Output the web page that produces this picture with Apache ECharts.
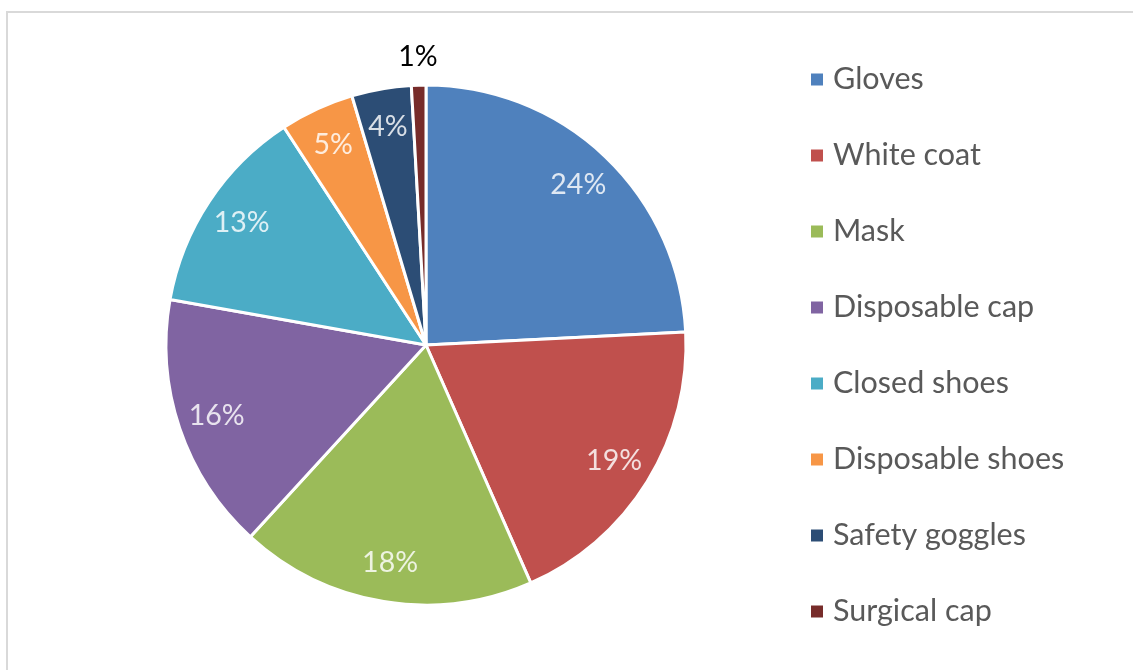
<!DOCTYPE html>
<html><head><meta charset="utf-8">
<script src="https://cdn.jsdelivr.net/npm/echarts@6/dist/echarts.min.js"></script>
<style>html,body{margin:0;padding:0;background:#fff}#c{width:1133px;height:670px}</style>
</head><body><div id="c"></div>
<script>
const categories = ['Gloves','White coat','Mask','Disposable cap','Closed shoes','Disposable shoes','Safety goggles','Surgical cap'];
const shares = [24.2, 19.2, 18.4, 16.0, 13.0, 4.6, 3.7, 0.9];
const colors = ['#4F81BD','#C0504D','#9BBB59','#8064A2','#4BACC6','#F79646','#2C4D75','#772C2A'];
const outsideLabel = ['Surgical cap'];

const font = 'Lato, "Open Sans", sans-serif';
const data = categories.map((n,i)=>({name:n, value:shares[i], itemStyle:{color:colors[i]}}));
const fmt = p => Math.round(p.percent) + '%';
const center = [426, 345];

const chart = echarts.init(document.getElementById('c'), null, {renderer:'canvas'});
chart.setOption({
  animation:false,
  backgroundColor:'#fff',
  graphic:[{type:'rect', shape:{x:7,y:12,width:1300,height:800}, style:{fill:'none', stroke:'#d9d9d9', lineWidth:2}, silent:true}],
  legend:{
    orient:'vertical', left:804, top:59, icon:'rect', itemWidth:14, itemHeight:14, itemGap:45,
    data:categories,
    textStyle:{fontFamily:font, fontSize:30.5, color:'#595959', lineHeight:30, padding:[0,0,0,4]}
  },
  series:[
    {type:'pie', center:center, radius:[0,260], startAngle:90, clockwise:true, data:data,
     itemStyle:{borderColor:'#fff', borderWidth:3}, label:{show:false}, labelLine:{show:false}, emphasis:{disabled:true}},
    {type:'pie', center:center, radius:[176,260], startAngle:90, clockwise:true, silent:true,
     data:data.map(d=>({name:d.name, value:d.value, itemStyle:{color:'transparent'},
       label:{show: !outsideLabel.includes(d.name)}})),
     label:{position:'inside', formatter:fmt, fontFamily:font, fontSize:28.5, color:'rgba(255,255,255,0.82)'},
     labelLine:{show:false}, emphasis:{disabled:true}},
    {type:'pie', center:center, radius:[270,300], startAngle:90, clockwise:true, silent:true,
     data:data.map(d=>({name:d.name, value:d.value, itemStyle:{color:'transparent'},
       label:{show: outsideLabel.includes(d.name)}})),
     label:{position:'inside', formatter:fmt, fontFamily:font, fontSize:28.5, color:'#000'},
     labelLine:{show:false}, emphasis:{disabled:true}}
  ]
});
</script></body></html>
